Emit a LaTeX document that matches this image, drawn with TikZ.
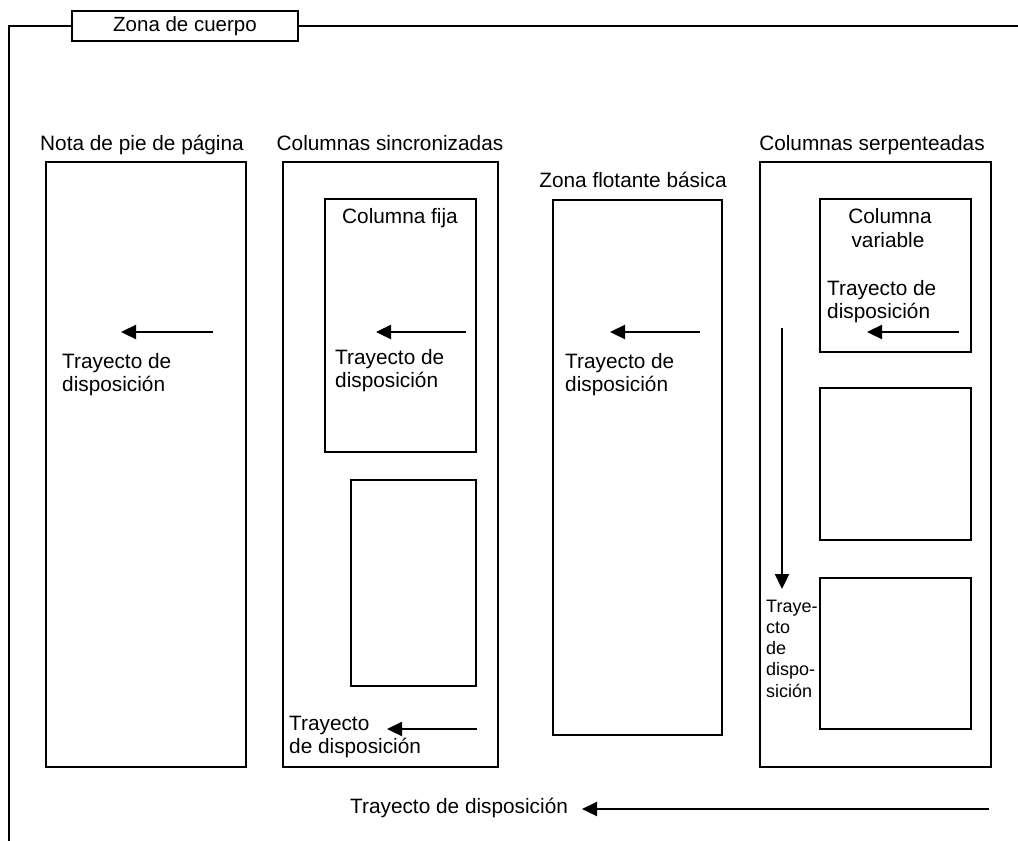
\documentclass[tikz,border=0pt]{standalone}
\usepackage{fontspec}
\setmainfont{Liberation Sans}
\usetikzlibrary{arrows.meta}
\begin{document}
\begin{tikzpicture}[x=1pt,y=-1pt,
  frame/.style={line width=1.3pt},
  box/.style={draw, line width=1.3pt, inner sep=0pt},
  txt/.style={inner sep=0pt, anchor=base west, font=\fontsize{20.8}{23}\selectfont},
  ctxt/.style={inner sep=0pt, anchor=base, font=\fontsize{20.8}{23}\selectfont},
  small/.style={inner sep=0pt, anchor=base west, font=\fontsize{18}{21}\selectfont},
  flow/.style={line width=2.3pt, -{Triangle[length=15pt,width=14pt]}}]
\useasboundingbox (0,0) rectangle (1018,841);

% frame
\node[box, minimum width=226pt, minimum height=30pt, font=\fontsize{20.5}{23}\selectfont] (zc) at (185,26) {Zona de cuerpo};
\coordinate (fTL) at (9,26);
\coordinate (fBL) at (9,841);
\coordinate (fTR) at (1018,26);
\draw[frame] (zc.west) -- (fTL) -- (fBL);
\draw[frame] (zc.east) -- (fTR);

% column boxes
\node[box, minimum width=200pt, minimum height=605pt] (col1) at (146,464.5) {};
\node[box, minimum width=215pt, minimum height=605pt] (col2) at (390.5,464.5) {};
\node[box, minimum width=151pt, minimum height=253pt] (col2a) at (400.5,325.5) {};
\node[box, minimum width=125pt, minimum height=206pt] (col2b) at (413.5,583) {};
\node[box, minimum width=169pt, minimum height=535pt] (col3) at (637.5,467.5) {};
\node[box, minimum width=231pt, minimum height=605pt] (col4) at (875.5,464.5) {};
\node[box, minimum width=151pt, minimum height=153pt] (col4a) at (895.5,275.5) {};
\node[box, minimum width=151pt, minimum height=152pt] (col4b) at (895.5,464) {};
\node[box, minimum width=151pt, minimum height=151pt] (col4c) at (895.5,653.5) {};

% titles
\node[ctxt] (t1) at (142,150.5) {Nota de pie de página};
\node[ctxt] (t2) at (390,150.5) {Columnas sincronizadas};
\node[ctxt] (t3) at (633,187) {Zona flotante básica};
\node[ctxt] (t4) at (872,150) {Columnas serpenteadas};
\node[ctxt] (t2a) at (400,223) {Columna fija};
\node[ctxt] (t4a1) at (890,223) {Columna};
\node[ctxt] (t4a2) at (888,247) {variable};

% path labels
\node[txt] (l1a) at (62,368) {Trayecto de};
\node[txt] (l1b) at (62,391) {disposición};
\node[txt] (l2a) at (335,364) {Trayecto de};
\node[txt] (l2b) at (335,387) {disposición};
\node[txt] (l2c) at (289,730) {Trayecto};
\node[txt] (l2d) at (289,753) {de disposición};
\node[txt] (l3a) at (565,368) {Trayecto de};
\node[txt] (l3b) at (565,391) {disposición};
\node[txt] (l4a) at (827,295) {Trayecto de};
\node[txt] (l4b) at (827,318) {disposición};
\node[small] (s1) at (766,612) {Traye-};
\node[small] (s2) at (766,633) {cto};
\node[small] (s3) at (766,654) {de};
\node[small] (s4) at (766,675) {dispo-};
\node[small] (s5) at (766,697) {sición};
\node[txt] (lb) at (350,813) {Trayecto de disposición};

% arrows
\coordinate (a1s) at (213,332); \coordinate (a1e) at (121,332);
\coordinate (a2s) at (466,332); \coordinate (a2e) at (376,332);
\coordinate (a3s) at (477,729); \coordinate (a3e) at (387,729);
\coordinate (a4s) at (700,332); \coordinate (a4e) at (610,332);
\coordinate (a5s) at (959,332); \coordinate (a5e) at (867,332);
\coordinate (a6s) at (782,328); \coordinate (a6e) at (782,589);
\coordinate (a7s) at (989,809); \coordinate (a7e) at (582,809);
\draw[flow] (a1s) -- (a1e);
\draw[flow] (a2s) -- (a2e);
\draw[flow] (a3s) -- (a3e);
\draw[flow] (a4s) -- (a4e);
\draw[flow] (a5s) -- (a5e);
\draw[flow] (a6s) -- (a6e);
\draw[flow] (a7s) -- (a7e);
\end{tikzpicture}
\end{document}
